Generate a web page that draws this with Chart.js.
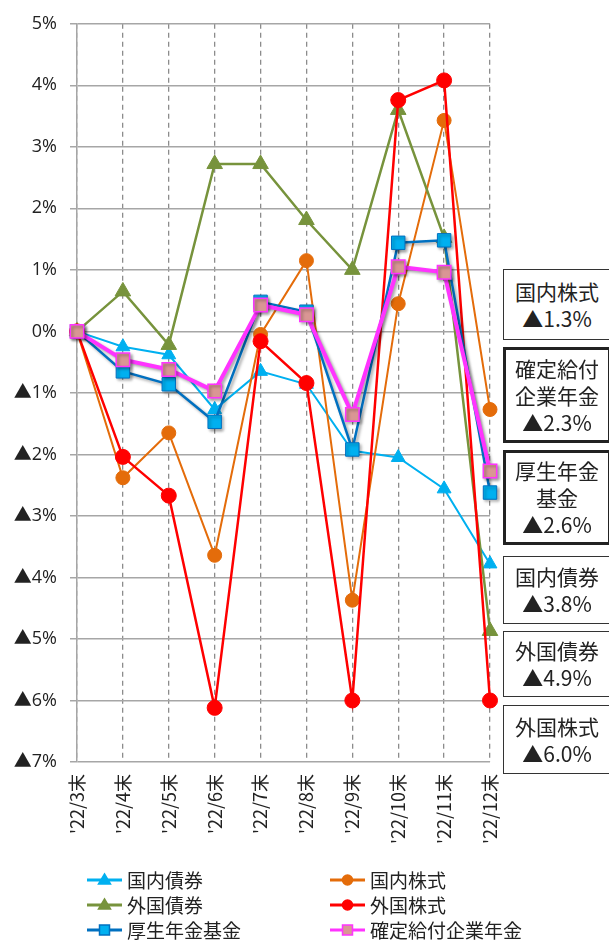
<!DOCTYPE html>
<html>
<head>
<meta charset="utf-8">
<script src="https://cdn.jsdelivr.net/npm/chart.js"></script>
<style>
  html, body { margin: 0; padding: 0; background: #fff; }
  #wrap { position: relative; width: 609px; height: 941px; overflow: hidden; }
  .box {
    position: absolute; left: 503px; width: 108px; box-sizing: border-box;
    border: 1.5px solid #333; background: #fff; color: #222;
    font-family: "Noto Sans CJK JP", sans-serif; font-size: 21px; line-height: 27px;
    display: flex; flex-direction: column; justify-content: center; align-items: center;
  }
  .box.bold { border: 3px solid #222; }
</style>
</head>
<body>
<div id="wrap">
  <canvas id="returns-chart" width="609" height="941"></canvas>
</div>
<script>
// month-end labels
const months = ["'22/3末", "'22/4末", "'22/5末", "'22/6末", "'22/7末", "'22/8末", "'22/9末", "'22/10末", "'22/11末", "'22/12末"];

// cumulative returns (%)
const domesticBonds   = [0, -0.25, -0.38, -1.27, -0.65, -0.86, -1.94, -2.05, -2.56, -3.78];
const domesticStocks  = [0, -2.38, -1.65, -3.64, -0.05, 1.15, -4.37, 0.45, 3.43, -1.27];
const foreignBonds    = [0, 0.65, -0.22, 2.72, 2.72, 1.81, 1.0, 3.6, 1.52, -4.87];
const foreignStocks   = [0, -2.04, -2.67, -6.12, -0.16, -0.84, -6.0, 3.76, 4.08, -6.0];
const pensionFund     = [0, -0.65, -0.86, -1.47, 0.48, 0.32, -1.92, 1.44, 1.48, -2.62];
const definedBenefit  = [0, -0.46, -0.62, -0.97, 0.43, 0.27, -1.35, 1.05, 0.96, -2.27];

// boxes on the right side: label lines and final value
const boxLabels = [["国内株式"], ["確定給付", "企業年金"], ["厚生年金", "基金"], ["国内債券"], ["外国債券"], ["外国株式"]];
const boxValues = [-1.3, -2.3, -2.6, -3.8, -4.9, -6.0];
const boxBold   = [false, true, true, false, false, false];
const boxTops   = [269, 347, 450, 556, 631, 705];
const boxHeights = [71, 96, 95, 68, 66, 69];

const fmtPct = (v, digits) => (v < 0 ? '▲' : '') + Math.abs(v).toFixed(digits) + '%';

const wrap = document.getElementById('wrap');
boxLabels.forEach((lines, i) => {
    const d = document.createElement('div');
    d.className = 'box' + (boxBold[i] ? ' bold' : '');
    d.style.top = boxTops[i] + 'px';
    d.style.height = boxHeights[i] + 'px';
    lines.concat([fmtPct(boxValues[i], 1)]).forEach(t => {
        const s = document.createElement('div');
        s.textContent = t;
        d.appendChild(s);
    });
    wrap.appendChild(d);
});

// soft drop shadow under the two fund lines
const shadowPlugin = {
    id: 'fundShadow',
    beforeDatasetDraw(chart, args) {
        const ds = chart.data.datasets[args.index];
        if (!ds.shadow) return;
        const ctx = chart.ctx;
        ctx.save();
        ctx.shadowColor = 'rgba(0,0,0,0.35)';
        ctx.shadowOffsetX = 2;
        ctx.shadowOffsetY = 2;
        ctx.shadowBlur = 3;
    },
    afterDatasetDraw(chart, args) {
        if (chart.data.datasets[args.index].shadow) chart.ctx.restore();
    }
};

// two-column legend under the x labels
const legendPlugin = {
    id: 'gridLegend',
    afterDraw(chart) {
        const ctx = chart.ctx;
        const colX = [87, 330];
        const rowY = [880, 905, 930];
        ctx.save();
        chart.data.datasets.forEach((ds, i) => {
            const x = colX[i % 2], y = rowY[Math.floor(i / 2)];
            ctx.strokeStyle = ds.borderColor;
            ctx.lineWidth = 3;
            ctx.beginPath();
            ctx.moveTo(x, y);
            ctx.lineTo(x + 35, y);
            ctx.stroke();
            const cx = x + 17.5;
            ctx.fillStyle = ds.pointBackgroundColor;
            ctx.strokeStyle = ds.pointBorderColor;
            ctx.lineWidth = 1.5;
            ctx.beginPath();
            if (ds.pointStyle === 'triangle') {
                ctx.moveTo(cx, y - 6);
                ctx.lineTo(cx + 6, y + 4);
                ctx.lineTo(cx - 6, y + 4);
                ctx.closePath();
            } else if (ds.pointStyle === 'circle') {
                ctx.arc(cx, y, 5, 0, Math.PI * 2);
            } else {
                ctx.rect(cx - 5, y - 5, 10, 10);
            }
            ctx.fill();
            ctx.stroke();
            ctx.fillStyle = '#222';
            ctx.font = '19px "Noto Sans CJK JP", sans-serif';
            ctx.textBaseline = 'middle';
            ctx.textAlign = 'left';
            ctx.fillText(ds.label, x + 40, y + 1);
        });
        ctx.restore();
    }
};

function series(label, data, color, style, radius, width, order, extra) {
    return Object.assign({
        label: label,
        data: data,
        borderColor: color,
        backgroundColor: color,
        borderWidth: width,
        pointStyle: style,
        pointRadius: radius,
        pointHoverRadius: radius,
        pointBackgroundColor: color,
        pointBorderColor: color,
        pointBorderWidth: 1,
        tension: 0,
        order: order
    }, extra || {});
}

new Chart('returns-chart', {
    type: 'line',
    data: {
        labels: months,
        datasets: [
            series('国内債券', domesticBonds, '#00B0F0', 'triangle', 8, 2, 6),
            series('国内株式', domesticStocks, '#E46C0A', 'circle', 7, 2, 5),
            series('外国債券', foreignBonds, '#77933C', 'triangle', 9, 2.5, 4),
            series('外国株式', foreignStocks, '#FF0000', 'circle', 7.5, 2.5, 3),
            series('厚生年金基金', pensionFund, '#0070C0', 'rect', 9.5, 2.5, 2,
                { pointBackgroundColor: '#00B0F0', pointBorderColor: '#0070C0', shadow: true }),
            series('確定給付企業年金', definedBenefit, '#FF33FF', 'rect', 9.5, 4, 1,
                { pointBackgroundColor: '#D99694', pointBorderColor: '#FF33FF', pointBorderWidth: 1.5, shadow: true })
        ]
    },
    options: {
        responsive: false,
        animation: false,
        layout: { padding: { top: 21, right: 119, bottom: 89, left: 0 } },
        plugins: { legend: { display: false }, tooltip: { enabled: false } },
        scales: {
            x: {
                offset: false,
                grid: { color: '#8c8c8c', lineWidth: 1.3, drawTicks: false },
                border: { display: false, dash: [5, 4] },
                ticks: {
                    minRotation: 90, maxRotation: 90, padding: 12, color: '#222',
                    font: { family: '"Noto Sans CJK JP", sans-serif', size: 18 }
                },
                afterFit(scale) { scale.height = 90; }
            },
            y: {
                min: -7, max: 5,
                grid: { color: '#a6a6a6', lineWidth: 1.5, tickLength: 7 },
                border: { color: '#a6a6a6', width: 1.5 },
                ticks: {
                    stepSize: 1, padding: 13, color: '#222',
                    font: { family: '"Open Sans", "Noto Sans CJK JP", sans-serif', size: 18 },
                    callback: v => fmtPct(v, 0)
                },
                afterFit(scale) { scale.width = 77; }
            }
        }
    },
    plugins: [shadowPlugin, legendPlugin]
});
</script>
</body>
</html>
